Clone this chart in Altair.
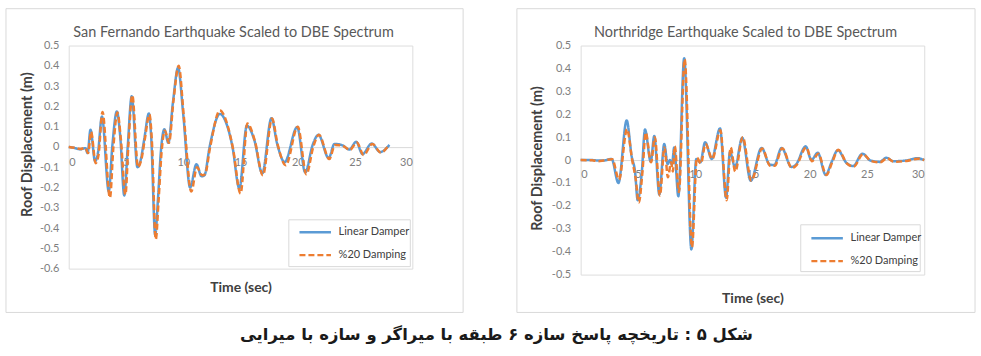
import altair as alt
import pandas as pd

# ---------------- data ----------------
SERIES = ["Linear Damper", "%20 Damping"]
COLORS = ["#5b9bd5", "#ed7d31"]

X_TICKS = [0, 5, 10, 15, 20, 25, 30]
SF_Y_TICKS = [0.5, 0.4, 0.3, 0.2, 0.1, 0.0, -0.1, -0.2, -0.3, -0.4, -0.5, -0.6]
NR_Y_TICKS = [0.5, 0.4, 0.3, 0.2, 0.1, 0.0, -0.1, -0.2, -0.3, -0.4, -0.5]

# San Fernando - Linear Damper
SF_LIN_T = [0, 0.5, 1.0, 1.45, 1.65, 1.9, 2.3, 2.55, 2.9, 3.5, 3.8, 4.2, 4.5, 4.85, 5.15, 5.5, 6.0, 6.3,
            6.6, 7.0, 7.2, 7.55, 7.8, 8.05, 8.35, 8.7, 9.1, 9.55, 10.0, 10.6, 11.15, 11.6, 11.85, 12.3,
            13.2, 13.8, 14.3, 14.9, 15.55, 16.2, 16.9, 17.7, 18.2, 18.85, 19.95, 20.65, 21.3, 21.8,
            22.7, 23.2, 23.9, 24.5, 25.1, 25.65, 26.45, 27.2, 28.0]
SF_LIN_V = [0, -0.005, -0.012, -0.006, -0.03, 0.085, -0.07, -0.03, 0.15, -0.22, 0.0, 0.175, 0.05, -0.24,
            0.0, 0.25, -0.1, -0.06, 0.04, 0.165, 0.05, -0.435, -0.25, -0.02, 0.087, 0.02, 0.22, 0.39,
            0.16, -0.2, -0.085, -0.145, -0.14, 0.0, 0.163, 0.11, 0.0, -0.205, 0.105, 0.035, -0.13, 0.142,
            0.015, -0.075, 0.098, -0.126, 0.01, 0.06, -0.055, 0.015, 0.008, -0.013, 0.025, -0.035,
            0.017, -0.025, 0.01]
# San Fernando - %20 Damping
SF_DMP_T = [0, 0.5, 1.0, 1.45, 1.7, 1.95, 2.35, 2.6, 2.95, 3.6, 3.9, 4.25, 4.55, 4.95, 5.2, 5.55, 6.05,
            6.35, 6.65, 7.05, 7.25, 7.6, 7.85, 8.1, 8.4, 8.75, 9.15, 9.6, 10.05, 10.7, 11.2, 11.65, 11.9,
            12.35, 13.2, 13.85, 14.35, 15.0, 15.6, 16.25, 16.95, 17.75, 18.25, 18.95, 20.0, 20.75,
            21.35, 21.85, 22.75, 23.25, 23.95, 24.55, 25.15, 25.75, 26.5, 27.25, 27.9]
SF_DMP_V = [0, -0.004, -0.01, -0.005, -0.03, 0.075, -0.08, -0.04, 0.172, -0.25, 0.0, 0.17, 0.04, -0.235,
            0.0, 0.255, -0.1, -0.06, 0.04, 0.16, 0.04, -0.455, -0.26, -0.03, 0.08, 0.02, 0.23, 0.4,
            0.15, -0.22, -0.1, -0.14, -0.135, 0.0, 0.18, 0.11, -0.01, -0.23, 0.115, 0.03, -0.14, 0.14,
            0.01, -0.09, 0.1, -0.135, 0.0, 0.06, -0.06, 0.01, 0.005, -0.015, 0.022, -0.04, 0.015,
            -0.028, 0.005]

# Northridge - Linear Damper
NR_LIN_T = [0, 1.0, 1.5, 2.0, 2.7, 3.3, 4.02, 4.46, 4.75, 4.98, 5.33, 5.62, 6.12, 6.43, 6.87, 7.3, 7.6,
            7.8, 7.97, 8.17, 8.53, 9.04, 9.67, 10.1, 10.45, 10.87, 11.45, 12.17, 12.7, 13.04, 13.48,
            14.11, 14.85, 15.8, 16.5, 16.9, 17.55, 18.4, 18.8, 19.65, 20.15, 20.7, 21.4, 21.9, 22.46,
            23.2, 23.8, 24.6, 25.3, 26.1, 26.7, 27.3, 28.4, 29.4, 30.0]
NR_LIN_V = [0, 0.0, -0.002, -0.002, 0.005, -0.1, 0.173, 0.015, -0.05, -0.175, -0.06, 0.133, -0.007,
            0.105, -0.15, 0.07, -0.018, 0.0, -0.02, 0.055, -0.158, 0.445, -0.39, 0.005, -0.01, 0.078,
            0.005, 0.138, -0.165, 0.035, -0.03, 0.097, -0.09, 0.053, -0.019, -0.022, 0.053, -0.03,
            -0.02, 0.06, 0.0, 0.032, -0.065, -0.01, 0.043, -0.012, -0.026, 0.028, -0.002, -0.008,
            0.01, -0.005, -0.002, 0.008, 0.0]
# Northridge - %20 Damping
NR_DMP_T = [0, 1.0, 1.5, 2.0, 2.75, 3.35, 4.05, 4.5, 4.8, 5.08, 5.4, 5.68, 6.15, 6.48, 6.92, 7.32, 7.62,
            7.9, 8.05, 8.22, 8.58, 9.08, 9.72, 10.15, 10.5, 10.9, 11.5, 12.2, 12.75, 13.1, 13.5, 14.15,
            14.9, 15.85, 16.55, 16.95, 17.6, 18.45, 18.85, 19.7, 20.2, 20.75, 21.45, 21.95, 22.5, 23.25,
            23.85, 24.65, 25.35, 26.15, 26.75, 27.35, 28.45, 29.45, 30.0]
NR_DMP_V = [0, -0.001, -0.005, -0.002, 0.004, -0.085, 0.135, 0.0, -0.08, -0.185, -0.05, 0.12, -0.01,
            0.1, -0.155, 0.055, -0.075, -0.01, -0.05, 0.06, -0.14, 0.44, -0.38, 0.01, -0.015, 0.07,
            0.005, 0.13, -0.175, 0.055, -0.05, 0.1, -0.09, 0.05, -0.025, -0.025, 0.052, -0.035, -0.022,
            0.055, -0.005, 0.028, -0.065, -0.012, 0.045, -0.015, -0.028, 0.026, -0.004, -0.01, 0.008,
            -0.007, -0.004, 0.006, 0.0]

TITLE_SF = "San Fernando Earthquake Scaled to DBE Spectrum"
TITLE_NR = "Northridge Earthquake Scaled to DBE Spectrum"
CAPTION = "شکل ۵ : تاریخچه پاسخ سازه ۶ طبقه با میراگر و سازه با میرایی"

FONT = "Lato"


def frame_df(t1, v1, t2, v2):
    a = pd.DataFrame({"t": t1, "v": v1, "s": SERIES[0]})
    b = pd.DataFrame({"t": t2, "v": v2, "s": SERIES[1]})
    return pd.concat([a, b], ignore_index=True)


def outline(x1, x2, y1, y2):
    return alt.Chart(pd.DataFrame({"a": [0]})).mark_rect(
        fillOpacity=0, stroke="#d9d9d9", strokeWidth=1
    ).encode(x=alt.value(x1), x2=alt.value(x2), y=alt.value(y1), y2=alt.value(y2))


def panel(df, title, yticks, ydom, height, zero_from_top, legend_y, frame_x, legend_box,
          xtitle_y, ytitle_x, ytitle_y):
    leg = alt.Legend(
        title=None, orient="none", legendX=230, legendY=legend_y,
        symbolType="stroke", symbolSize=1000, symbolStrokeWidth=2.4,
        labelFont=FONT, labelFontSize=11, labelColor="#404040", labelOffset=6,
        padding=0, rowPadding=-13,
    )
    lines = alt.Chart(df).mark_line(strokeWidth=2.5, interpolate="monotone").encode(
        x=alt.X("t:Q", scale=alt.Scale(domain=[0, 30], nice=False),
                axis=alt.Axis(values=X_TICKS, offset=-(height - zero_from_top), ticks=False,
                              grid=False, domainColor="#d9d9d9", domainWidth=1,
                              labelColor="#808080", labelFont=FONT, labelFontSize=11,
                              labelPadding=9, title="Time (sec)", titleFont=FONT,
                              titleFontSize=14, titleFontWeight="bold", titleColor="#404040",
                              titleBaseline="middle", titleY=xtitle_y)),
        y=alt.Y("v:Q", scale=alt.Scale(domain=ydom, nice=False, zero=False),
                axis=alt.Axis(values=yticks, domain=False, ticks=False, grid=False,
                              labelColor="#808080", labelFont=FONT, labelFontSize=11,
                              labelPadding=10,
                              labelExpr="replace(format(datum.value, '.1~f'), '\u2212', '-')",
                              title="Roof Displacement (m)", titleFont=FONT, titleFontSize=14.5,
                              titleFontWeight="bold", titleColor="#404040",
                              titleX=ytitle_x, titleY=ytitle_y, titleBaseline="middle")),
        color=alt.Color("s:N", scale=alt.Scale(domain=SERIES, range=COLORS), legend=leg),
        strokeDash=alt.StrokeDash("s:N", scale=alt.Scale(domain=SERIES, range=[[1, 0], [6, 3]]),
                                  legend=leg),
    )
    box = outline(frame_x[0], frame_x[1], -37, 268)
    lbox = outline(*legend_box)
    return alt.layer(box, lbox, lines).properties(
        width=345, height=height,
        title=alt.TitleParams(title, font=FONT, fontSize=14.5, fontWeight="normal",
                              color="#595959", offset=-32, dx=-7, anchor="middle"),
    )


left = panel(frame_df(SF_LIN_T, SF_LIN_V, SF_DMP_T, SF_DMP_V), TITLE_SF, SF_Y_TICKS, [-0.6, 0.5],
             224, 102, 170, (-63, 396), (221, 343, 175, 222), 141, -41, 99)
right = panel(frame_df(NR_LIN_T, NR_LIN_V, NR_DMP_T, NR_DMP_V), TITLE_NR, NR_Y_TICKS, [-0.5, 0.5],
              230, 115, 176, (-64, 396), (221, 341, 180, 227), 139, -43, 113)

chart = alt.hconcat(left, right, spacing=52, bounds="full").resolve_scale(
    color="independent", strokeDash="independent", x="independent", y="independent"
).resolve_legend(color="independent", strokeDash="independent").properties(
    title=alt.TitleParams(CAPTION, orient="bottom", anchor="middle", font="DejaVu Sans",
                          fontSize=16.5, fontWeight="bold", color="#1a1a1a", offset=14, dx=6),
    padding={"left": 5, "top": 7, "right": 5, "bottom": 4},
).configure_view(stroke="#ececec").configure(background="white")

chart.save("out.html", embed_options={"renderer": "svg", "actions": False})
